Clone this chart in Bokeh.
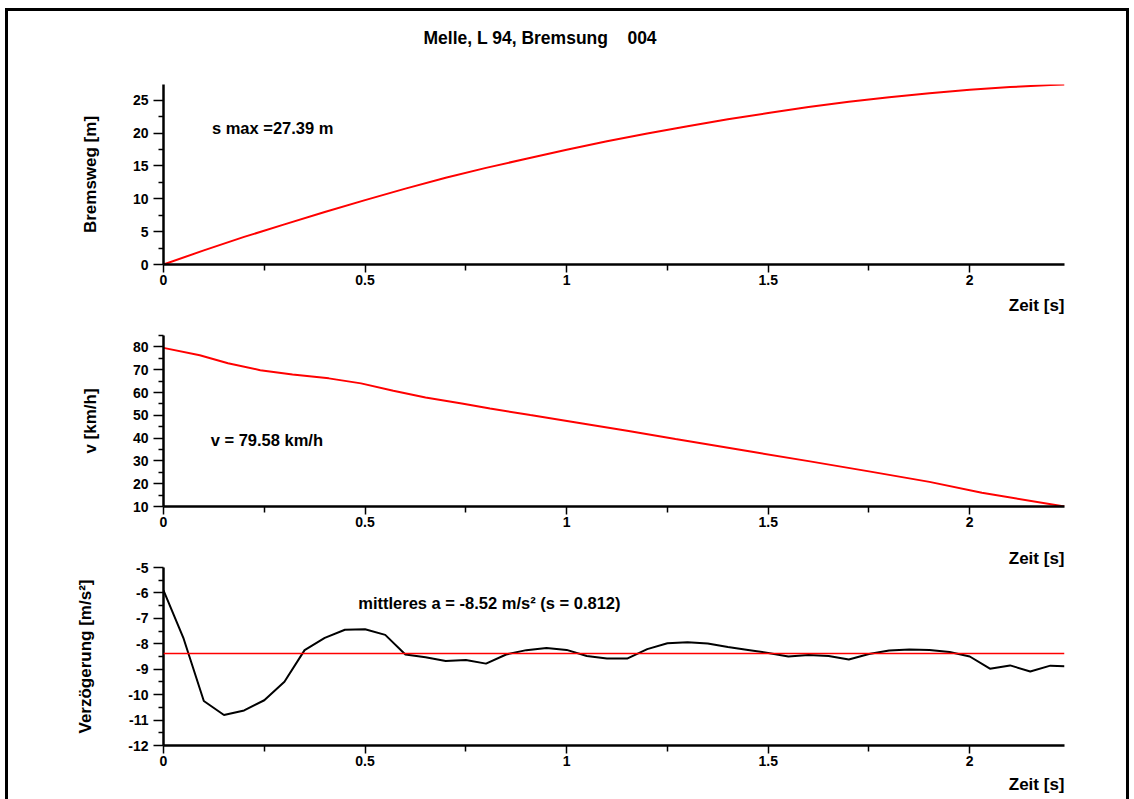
from bokeh.plotting import figure
from bokeh.layouts import column
from bokeh.models import Range1d, FixedTicker, Label, Span, Title
from bokeh.embed import file_html
from bokeh.resources import INLINE

# ---------------- data ----------------
TITLE = "Melle, L 94, Bremsung\u00a0\u00a0\u00a0\u00a0004"
X_LABEL = "Zeit [s]"
Y_LABEL_S = "Bremsweg [m]"
Y_LABEL_V = "v [km/h]"
Y_LABEL_A = "Verzögerung [m/s²]"
S_TEXT = "s max =27.39 m"
V_TEXT = "v = 79.58 km/h"
A_TEXT = "mittleres a = -8.52 m/s² (s = 0.812)"

X_TICKS = [0, 0.5, 1, 1.5, 2]
X_TICK_LABELS = ["0", "0.5", "1", "1.5", "2"]
X_MINOR = [0.25, 0.75, 1.25, 1.75]

S_TICKS = [0, 5, 10, 15, 20, 25]
S_MINOR = [2.5, 7.5, 12.5, 17.5, 22.5]
V_TICKS = [10, 20, 30, 40, 50, 60, 70, 80]
V_MINOR = [15, 25, 35, 45, 55, 65, 75, 85]
V_RANGE = (10, 85)
A_TICKS = [-12, -11, -10, -9, -8, -7, -6, -5]
A_TICK_LABELS = ["-12", "-11", "-10", "-9", "-8", "-7", "-6", "-5"]
A_MINOR = [-11.5, -10.5, -9.5, -8.5, -7.5, -6.5, -5.5]
A_RANGE = (-12, -5)

# Bremsweg [m]
t_s = [0, 0.1, 0.2, 0.3, 0.4, 0.5, 0.6, 0.7, 0.8, 0.9, 1.0, 1.1, 1.2,
       1.3, 1.4, 1.5, 1.6, 1.7, 1.8, 1.9, 2.0, 2.1, 2.2, 2.235]
s_m = [0, 2.15, 4.2, 6.1, 8.0, 9.8, 11.55, 13.2, 14.7, 16.1, 17.45, 18.75,
       19.95, 21.05, 22.1, 23.05, 23.95, 24.75, 25.45, 26.05, 26.6, 27.0,
       27.3, 27.39]

# v [km/h]
t_v = [0, 0.09, 0.16, 0.24, 0.32, 0.41, 0.49, 0.57, 0.65, 0.74, 0.81, 0.91,
       1.02, 1.15, 1.27, 1.46, 1.6, 1.75, 1.9, 2.03, 2.235]
v_kmh = [79.58, 76.3, 72.8, 69.8, 67.9, 66.2, 64.0, 60.8, 57.8, 55.2, 53.0,
         50.1, 47.0, 43.2, 39.6, 34.0, 29.9, 25.4, 20.8, 16.0, 10.0]

# Verzoegerung [m/s2]
t_a = [0, 0.05, 0.1, 0.15, 0.2, 0.25, 0.3, 0.35, 0.4, 0.45, 0.5, 0.55, 0.6,
       0.65, 0.7, 0.75, 0.8, 0.85, 0.9, 0.95, 1.0, 1.05, 1.1, 1.15, 1.2,
       1.25, 1.3, 1.35, 1.4, 1.45, 1.5, 1.55, 1.6, 1.65, 1.7, 1.75, 1.8,
       1.85, 1.9, 1.95, 2.0, 2.05, 2.1, 2.15, 2.2, 2.235]
a_ms2 = [-5.9, -7.8, -10.25, -10.8, -10.62, -10.22, -9.49, -8.25, -7.77,
         -7.45, -7.43, -7.65, -8.42, -8.53, -8.68, -8.64, -8.78, -8.42,
         -8.25, -8.17, -8.24, -8.48, -8.58, -8.58, -8.21, -7.98, -7.94,
         -7.99, -8.13, -8.24, -8.36, -8.5, -8.44, -8.48, -8.62, -8.4,
         -8.26, -8.22, -8.24, -8.32, -8.5, -8.98, -8.85, -9.09, -8.86, -8.88]
A_MEAN_LINE = -8.38

T_END = t_a[-1]

FONT = "Liberation Sans"
RED = "#ff0000"
FIG_W = 1118


def make_fig(height, b_top, b_bottom, y0, y1, yticks, yminor, ylabel):
    p = figure(width=FIG_W, height=height,
               x_range=Range1d(0, T_END), y_range=Range1d(y0, y1),
               output_backend="svg", toolbar_location=None,
               min_border_left=155, min_border_right=62,
               min_border_top=b_top, min_border_bottom=b_bottom)
    p.outline_line_color = None
    p.xgrid.visible = False
    p.ygrid.visible = False
    p.background_fill_color = "white"
    p.border_fill_color = "white"

    for ax in (p.xaxis[0], p.yaxis[0]):
        ax.axis_line_width = 2.5
        ax.axis_line_color = "black"
        ax.major_tick_in = 0
        ax.minor_tick_in = 0
        ax.major_tick_line_width = 1.5
        ax.minor_tick_line_width = 1.5
        ax.major_tick_line_color = "black"
        ax.minor_tick_line_color = "black"
        ax.major_label_text_font = FONT
        ax.major_label_text_font_style = "bold"
        ax.major_label_text_font_size = "14px"
        ax.major_label_text_color = "black"

    xa = p.xaxis[0]
    xa.ticker = FixedTicker(ticks=X_TICKS, minor_ticks=X_MINOR)
    xa.major_label_overrides = {v: l for v, l in zip(X_TICKS, X_TICK_LABELS)}
    xa.major_tick_out = 8
    xa.minor_tick_out = 6
    xa.major_label_standoff = 2

    ya = p.yaxis[0]
    ya.ticker = FixedTicker(ticks=yticks, minor_ticks=yminor)
    ya.major_tick_out = 10
    ya.minor_tick_out = 5
    ya.major_label_standoff = 5
    ya.axis_label = ylabel
    ya.axis_label_text_font = FONT
    ya.axis_label_text_font_style = "bold"
    ya.axis_label_text_font_size = "17px"
    ya.axis_label_text_color = "black"
    ya.axis_label_standoff = 30
    return p


def text_label(p, x, y, text):
    p.add_layout(Label(x=x, y=y, text=text, text_font=FONT, text_font_style="bold",
                       text_font_size="16.5px", text_color="black",
                       text_baseline="middle"))


def zeit_title(standoff):
    return Title(text=X_LABEL, align="right", text_font=FONT, text_font_style="bold",
                 text_font_size="17px", text_color="black", standoff=standoff)


# ---- panel 1: Bremsweg ----
p1 = make_fig(313, 73, 60, 0, max(s_m), S_TICKS, S_MINOR, Y_LABEL_S)
p1.line(t_s, s_m, line_color=RED, line_width=2)
text_label(p1, 0.12, 20.7, S_TEXT)
p1.add_layout(zeit_title(13), "below")
# spacer between frame and the chart title
p1.add_layout(Title(text="\u00a0", text_font_size="1px", standoff=34), "above")
p1.add_layout(Title(text=TITLE, align="left", offset=260, standoff=0,
                    text_font=FONT, text_font_style="bold", text_font_size="17.5px",
                    text_color="black"), "above")

# ---- panel 2: v ----
p2 = make_fig(222, 11, 40, V_RANGE[0], V_RANGE[1], V_TICKS, V_MINOR, Y_LABEL_V)
p2.line(t_v, v_kmh, line_color=RED, line_width=2)
text_label(p2, 0.117, 39.2, V_TEXT)

# ---- panel 3: Verzoegerung ----
p3 = make_fig(253, 19, 54, A_RANGE[0], A_RANGE[1], A_TICKS, A_MINOR, Y_LABEL_A)
p3.yaxis[0].major_label_overrides = {v: l for v, l in zip(A_TICKS, A_TICK_LABELS)}
p3.add_layout(Span(location=A_MEAN_LINE, dimension="width", line_color=RED, line_width=1.5))
p3.line(t_a, a_ms2, line_color="black", line_width=2)
text_label(p3, 0.483, -6.4, A_TEXT)
# x-axis title of panel 2, drawn in the gap above panel 3
p3.add_layout(zeit_title(0), "above")
p3.add_layout(zeit_title(8), "below")

layout = column(p1, p2, p3, spacing=0,
                styles={"border": "3px solid black", "border-bottom": "none",
                        "margin-left": "5px", "margin-top": "8px"})

open("out.html", "w").write(file_html(layout, INLINE))
